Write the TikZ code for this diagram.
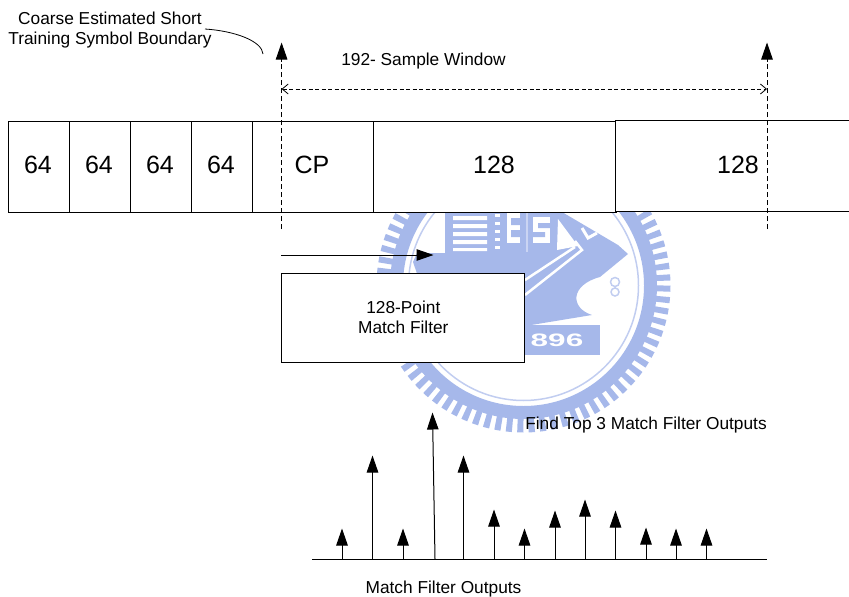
\documentclass[tikz,border=0pt]{standalone}
\usepackage{fontspec}
\usepackage{graphicx}
\setmainfont{Liberation Sans}
\usetikzlibrary{arrows.meta}
\definecolor{wm}{HTML}{A6B8EA}
\tikzset{
  cell/.style={draw=black,fill=white,line width=0.9pt,minimum height=91pt,inner sep=0pt,anchor=north west},
  biglab/.style={font=\fontsize{25}{25}\selectfont,inner sep=0pt},
  lab/.style={font=\fontsize{17.3}{20}\selectfont,inner sep=0pt,align=center},
  stem/.style={line width=1pt,-{Triangle[length=17pt,width=11.5pt]},shorten >=-0.5pt},
  dim/.style={dashed,line width=0.8pt,dash pattern=on 4pt off 2.5pt,{Straight Barb[length=6pt,width=10pt]}-{Straight Barb[length=6pt,width=10pt]}},
  marker/.style={dashed,line width=1pt,dash pattern=on 5pt off 3pt},
}
\begin{document}
\begin{tikzpicture}[x=1pt,y=-1pt]
\useasboundingbox (0,0) rectangle (849,597);
% watermark
\begin{scope}[wm]
  \draw[wm,line width=14pt,dash pattern=on 6pt off 5pt] (523.5,285.5) circle[radius=140];
  \draw[wm,line width=13pt] (523.5,285.5) circle[radius=127];
  \draw[wm!70,line width=1.5pt] (523.5,285.5) circle[radius=115];
  \fill (445,212) -- (562,212) -- (618,245) -- (628,254) -- (600,277)
     .. controls (570,285) and (570,308) .. (592,315) -- (440,340) -- (413,262) -- (417,253) -- (445,253) -- cycle;
  \fill (445,325) rectangle (600,355);
  % stack of lines and dotted strip
  \fill[white] (453,216) rectangle (487,220) (453,224) rectangle (487,228) (453,232) rectangle (487,236) (453,240) rectangle (487,244) (453,248) rectangle (487,251);
  \foreach \yy in {214,222,230,238,246}{\fill[white] (495,\yy) rectangle (500,\yy+3);}
  % E
  \fill[white] (507,212) rectangle (520,243);
  \fill (511,218) rectangle (520,225) (511,230) rectangle (520,237);
  % S
  \fill[white!40!wm] (526,212) rectangle (528,252);
  \fill[white] (533,217) rectangle (550,243);
  \fill (538,223) rectangle (550,228) (533,232) rectangle (545,237);
  % triangle and stripes
  \fill[white] (558,219) -- (578,246) -- (557,250) -- cycle;
  \draw[white,line width=2.5pt] (525,280) -- (575,247);
  \draw[white,line width=2.5pt] (525,295) -- (582,250) -- (575,241);
  % A
  \draw[white,line width=3pt] (582,228) -- (588,238) -- (597,233);
  \node[text=white,font=\bfseries\fontsize{18}{18}\selectfont,inner sep=0pt] (wmyear) at (557,340) {\scalebox{1.75}[1]{896}};
  \draw[white!30!wm,line width=1.5pt] (615,282) circle[radius=4.5] (615,292) circle[radius=4];
\end{scope}
% frame cells
\node[cell,minimum width=61pt] (c1) at (7.9,120.8) {};
\node[cell,minimum width=61pt] (c2) at (68.9,120.8) {};
\node[cell,minimum width=61pt] (c3) at (129.9,120.8) {};
\node[cell,minimum width=61pt] (c4) at (190.9,120.8) {};
\node[cell,minimum width=121pt] (c5) at (251.9,120.8) {};
\node[cell,minimum width=243pt] (c6) at (372.9,120.8) {};
\fill[white] (615.9,120.8) rectangle (849,211.8);
\draw[line width=0.9pt] (849,120.8) -- (615.9,120.8) -- (615.9,211.8) -- (849,211.8);
\node[biglab] (t1) at (38,165) {64};
\node[biglab] (t2) at (99,165) {64};
\node[biglab] (t3) at (160,165) {64};
\node[biglab] (t4) at (221,165) {64};
\node[biglab] (tcp) at (312,165) {CP};
\node[biglab] (t128a) at (494,165) {128};
\node[biglab] (t128b) at (738,165) {128};
% markers
\coordinate (ml) at (281.6,229);
\coordinate (mlt) at (281.6,43);
\coordinate (mr) at (767,229);
\coordinate (mrt) at (767,43);
\draw[marker] (ml) -- (281.6,60);
\draw[marker] (mr) -- (767,60);
\draw[stem] (281.6,62) -- (mlt);
\draw[stem] (767,62) -- (mrt);
\coordinate (dl) at (281.6,89);
\coordinate (dr) at (767,89);
\draw[dim] (dl) -- (dr);
\node[lab] (win) at (423.5,61.5) {192- Sample Window};
\node[lab] (coarse) at (110,30.5) {Coarse Estimated Short\\Training Symbol Boundary};
\coordinate (cs) at (205,29);
\coordinate (ce) at (263,54);
\draw[line width=0.8pt] (cs) .. controls (235,31) and (262,41) .. (ce);
% filter
\node[draw=black,fill=white,line width=1pt,minimum width=243pt,minimum height=89pt,inner sep=0pt,anchor=north west,lab] (mf) at (281.3,272.6) {128-Point\\Match Filter};
\coordinate (ins) at (281,255);
\coordinate (ine) at (433,255);
\draw[stem] (ins) -- (ine);
% outputs
\node[lab] (find) at (646,425.5) {Find Top 3 Match Filter Outputs};
\node[lab] (outs) at (443.5,589.5) {Match Filter Outputs};
\coordinate (bl) at (312,559);
\coordinate (br) at (767,559);
\draw[line width=1pt] (bl) -- (br);
\foreach \n/\x/\y in {a/342/529,b/372.5/456,c/403/529,e/463.5/456,f/494/510,g/524.5/529,h/555/511,i/585/500,j/615.5/511,k/646/528,l/676/529,m/706.5/529}{
  \coordinate (base\n) at (\x,559);
  \coordinate (tip\n) at (\x,\y);
  \draw[stem] (base\n) -- (tip\n);
}
\coordinate (based) at (435,559);
\coordinate (tipd) at (432.5,413);
\draw[stem] (based) -- (tipd);
\end{tikzpicture}
\end{document}
